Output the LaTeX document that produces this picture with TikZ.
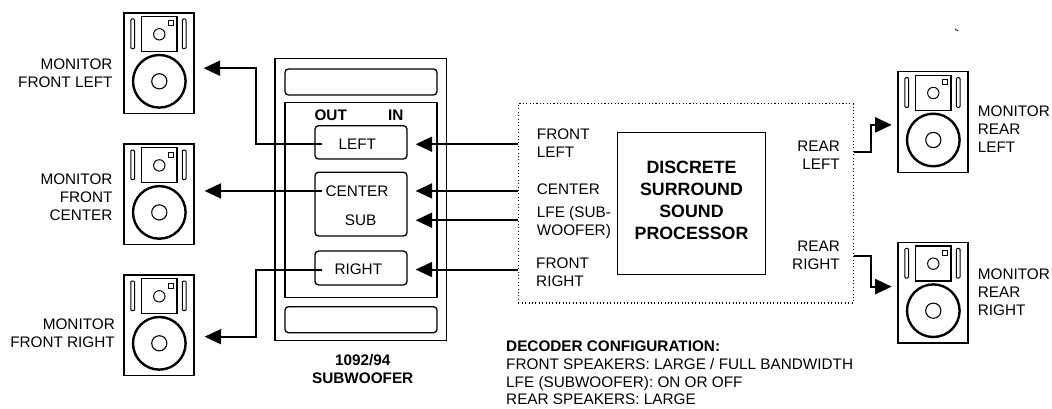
\documentclass[tikz,border=0pt]{standalone}
\usepackage{fontspec}
\setmainfont{Liberation Sans}
\usetikzlibrary{arrows.meta}
\tikzset{
  txt/.style={inner sep=0pt, font=\fontsize{15.3}{18}\selectfont},
  bldtxt/.style={inner sep=0pt, font=\fontsize{15.3}{18.3}\selectfont\bfseries},
  proctxt/.style={inner sep=0pt, font=\fontsize{17.8}{22.2}\selectfont\bfseries},
  plainbox/.style={draw, line width=1.3pt, inner sep=0pt},
  roundbox/.style={draw, line width=1.3pt, inner sep=0pt, rounded corners=3.5pt},
  spkbox/.style={draw, line width=1.3pt, inner sep=0pt, minimum width=70pt, minimum height=100.5pt, anchor=north west},
  conn/.style={line width=2pt, -{Triangle[length=16.5pt,width=15pt]}},
  dotbox/.style={draw, line width=1.1pt, dash pattern=on 1.1pt off 2.3pt, inner sep=0pt}
}
\newcommand\speakerat[3]{%
  \node[spkbox] (#1) at (#2,#3) {};
  \begin{scope}[shift={(#1.north west)}]
    \draw[line width=1pt, rounded corners=1pt] (7.5,6.7) rectangle (11.2,36.3);
    \draw[line width=1pt, rounded corners=1pt] (59,6.7) rectangle (62.7,36.3);
    \draw[line width=1.3pt] (18.4,4.2) rectangle (53.6,39.4);
    \draw[line width=1pt] (36,22) circle[radius=5.7pt];
    \draw[line width=1pt] (45,8.7) rectangle (50,13.7);
    \draw[line width=2.4pt] (36,69) circle[radius=26.3pt];
    \draw[line width=1.1pt] (36,69) circle[radius=7.6pt];
  \end{scope}}
\begin{document}
\begin{tikzpicture}[x=1pt,y=-1pt]
\useasboundingbox (0,0) rectangle (1052,409);
% speakers
\speakerat{spkFL}{123.3}{12.3}
\speakerat{spkFC}{123.3}{143.4}
\speakerat{spkFR}{123.3}{274.3}
\speakerat{spkRL}{897.3}{71}
\speakerat{spkRR}{897.3}{241.7}
% speaker labels (base anchor = baseline of last line)
\node[txt, anchor=base east, align=right] (lFL) at (112.7,87.2) {MONITOR\\FRONT LEFT};
\node[txt, anchor=base east, align=right] (lFC) at (112.7,220.5) {MONITOR\\FRONT\\CENTER};
\node[txt, anchor=base east, align=right] (lFR) at (115,347.2) {MONITOR\\FRONT RIGHT};
\node[txt, anchor=base west, align=left] (lRL) at (977.7,152.2) {MONITOR\\REAR\\LEFT};
\node[txt, anchor=base west, align=left] (lRR) at (977.7,315.5) {MONITOR\\REAR\\RIGHT};
% subwoofer unit
\node[plainbox, minimum width=171.7pt, minimum height=282.4pt] (sub) at (360.85,199.5) {};
\node[roundbox, minimum width=152pt, minimum height=26pt] (subtop) at (361,82) {};
\node[plainbox, minimum width=152pt, minimum height=195.4pt] (submid) at (361,200) {};
\node[roundbox, minimum width=152pt, minimum height=26pt] (subbot) at (361,319.7) {};
\node[roundbox, minimum width=92pt, minimum height=33.3pt] (lbox) at (361,142.35) {};
\node[roundbox, minimum width=92pt, minimum height=63.7pt] (csbox) at (361,204.15) {};
\node[roundbox, minimum width=92pt, minimum height=34pt] (rbox) at (361,268) {};
\node[bldtxt, anchor=base] (tOUT) at (330.7,120.5) {OUT};
\node[bldtxt, anchor=base] (tIN) at (395.7,120.5) {IN};
\node[txt, anchor=base] (tLEFT) at (357.3,149.5) {LEFT};
\node[txt, anchor=base] (tCENTER) at (357,196.2) {CENTER};
\node[txt, anchor=base] (tSUB) at (360.7,225.5) {SUB};
\node[txt, anchor=base] (tRIGHT) at (358.3,274.8) {RIGHT};
\node[bldtxt, anchor=base, align=center] (subname) at (362.7,383.8) {1092/94\\SUBWOOFER};
% processor
\node[dotbox, minimum width=335pt, minimum height=199.2pt] (dbox) at (685.8,203.4) {};
\node[plainbox, minimum width=148.4pt, minimum height=141.6pt] (proc) at (691.5,203.5) {};
\node[proctxt, anchor=base, align=center] (proctext) at (691.5,239.7) {DISCRETE\\SURROUND\\SOUND\\PROCESSOR};
\node[txt, anchor=base west, align=left] (inFL) at (536.7,157.8) {FRONT\\LEFT};
\node[txt, anchor=base west] (inC) at (536.7,194.8) {CENTER};
\node[txt, anchor=base west, align=left] (inLFE) at (536.7,235.5) {LFE (SUB-\\WOOFER)};
\node[txt, anchor=base west, align=left] (inFR) at (536,286.5) {FRONT\\RIGHT};
\node[txt, anchor=base east, align=right] (outRL) at (840,169.8) {REAR\\LEFT};
\node[txt, anchor=base east, align=right] (outRR) at (840,269.8) {REAR\\RIGHT};
% decoder configuration
\node[txt, anchor=base west, align=left, font=\fontsize{15.3}{17.8}\selectfont] (decoder) at (506,404.8) {\textbf{DECODER CONFIGURATION:}\\FRONT SPEAKERS: LARGE / FULL BANDWIDTH\\LFE (SUBWOOFER): ON OR OFF\\REAR SPEAKERS: LARGE};
% connectors into subwoofer
\draw[conn] (dbox.west |- tLEFT) -- ([xshift=8pt]lbox.east |- tLEFT);
\draw[conn] (dbox.west |- tCENTER) -- ([xshift=8pt]csbox.east |- tCENTER);
\draw[conn] (dbox.west |- tSUB) -- ([xshift=8pt]csbox.east |- tSUB);
\draw[conn] (dbox.west |- tRIGHT) -- ([xshift=8pt]rbox.east |- tRIGHT);
% connectors out to front speakers
\draw[conn] ([xshift=8pt]lbox.west |- tLEFT) -- ++(-66,0) |- ([xshift=9pt,yshift=-5pt]spkFL.east);
\draw[conn] ([xshift=8pt]csbox.west |- tCENTER) -- ([xshift=10pt]spkFC.east |- tCENTER);
\draw[conn] ([xshift=8pt]rbox.west |- tRIGHT) -- ++(-66,0) |- ([xshift=10pt,yshift=-11.5pt]spkFR.east);
% connectors out to rear speakers
\draw[conn] ([yshift=51.1pt]dbox.east) -- ++(17.4,0) |- ([xshift=-5.6pt,yshift=-3pt]spkRL.west);
\draw[conn] ([yshift=-52.6pt]dbox.east) -- ++(17.4,0) |- ([xshift=-5.6pt,yshift=6pt]spkRR.west);
% stray mark
\draw[line width=0.8pt] (955,29) -- (958,31);
\end{tikzpicture}
\end{document}
